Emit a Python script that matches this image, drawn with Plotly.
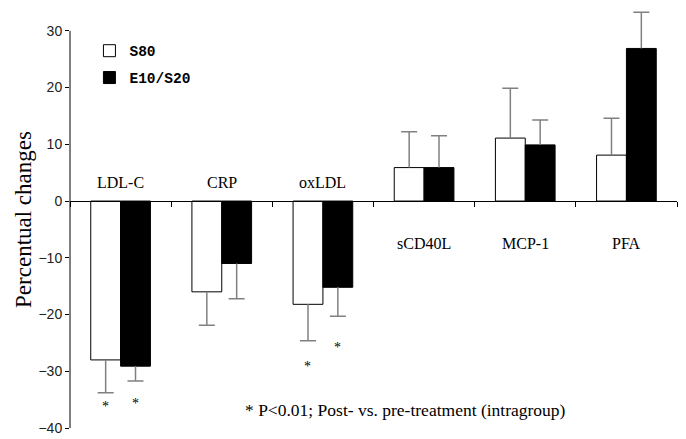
import plotly.graph_objects as go

categories = ["LDL-C", "CRP", "oxLDL", "sCD40L", "MCP-1", "PFA"]
s80 = [-28.0, -16.0, -18.2, 5.9, 11.1, 8.1]
s80_err = [5.8, 5.9, 6.4, 6.3, 8.8, 6.5]
e10s20 = [-29.1, -11.0, -15.2, 5.9, 9.9, 26.9]
e10s20_err = [2.6, 6.2, 5.1, 5.6, 4.4, 6.4]
label_y = [3.2, 3.2, 3.2, -7.4, -7.4, -7.4]
star_s80_y = [-36.2, None, -29.2, None, None, None]
star_e10_y = [-35.7, None, -25.8, None, None, None]
y_ticks = [-40, -30, -20, -10, 0, 10, 20, 30]
footnote = "* P<0.01; Post- vs. pre-treatment (intragroup)"

Y_MIN, Y_MAX, Y_TOP = -40, 30, 33.5
BARGAP = 0.41
ERR_COLOR = "#808080"
SERIF = "Liberation Serif"


def up(vals, errs):
    return [e if v >= 0 else 0 for v, e in zip(vals, errs)]


def down(vals, errs):
    return [e if v < 0 else 0 for v, e in zip(vals, errs)]


def ends(vals, errs):
    return [v + e if v >= 0 else v - e for v, e in zip(vals, errs)]


fig = go.Figure()

series = [
    ("S80", s80, s80_err, "white", "g1"),
    ("E10/S20", e10s20, e10s20_err, "black", "g2"),
]

for name, vals, errs, color, grp in series:
    fig.add_trace(go.Bar(
        x=categories, y=vals, name=name, offsetgroup=grp, legendgroup=grp,
        marker=dict(color=color, line=dict(color="black", width=1)),
        error_y=dict(type="data", symmetric=False, array=up(vals, errs),
                     arrayminus=down(vals, errs), color=ERR_COLOR,
                     thickness=1.5, width=0),
    ))

for name, vals, errs, color, grp in series:
    fig.add_trace(go.Bar(
        x=categories, y=[0] * len(vals), base=ends(vals, errs),
        offsetgroup=grp, showlegend=False, hoverinfo="skip",
        marker=dict(color="rgba(0,0,0,0)", line=dict(width=0)),
        error_y=dict(type="data", array=[0] * len(vals), color=ERR_COLOR,
                     thickness=1.5, width=8),
    ))

half = (1 - BARGAP) / 4
annotations = []
for i, cat in enumerate(categories):
    annotations.append(dict(x=cat, y=label_y[i], xref="x", yref="y", text=cat,
                            showarrow=False, font=dict(family=SERIF, size=16, color="black")))
    for stars, sign in ((star_s80_y, -1), (star_e10_y, 1)):
        if stars[i] is not None:
            annotations.append(dict(x=i + sign * half, y=stars[i], xref="x", yref="y",
                                    text="*", showarrow=False,
                                    font=dict(family=SERIF, size=14, color="black")))
annotations.append(dict(x=0.552, y=-36.8, xref="paper", yref="y", text=footnote,
                        showarrow=False, font=dict(family=SERIF, size=17.5, color="black")))

fig.update_layout(
    width=686, height=439,
    margin=dict(l=62, r=17, t=3.2, b=19, autoexpand=False),
    paper_bgcolor="white", plot_bgcolor="white",
    barmode="group", bargap=BARGAP, bargroupgap=0,
    showlegend=True,
    legend=dict(x=0.032, y=0.943, xanchor="left", yanchor="top",
                font=dict(family="Liberation Mono", size=14.5, color="black", weight="bold"),
                bgcolor="rgba(0,0,0,0)", tracegroupgap=5, itemwidth=30),
    annotations=annotations,
    shapes=[dict(type="line", xref="paper", yref="y", x0=0, x1=0, y0=Y_MIN, y1=Y_MAX,
                 line=dict(color="black", width=1))],
    xaxis=dict(type="category", range=[-0.5, 5.5], anchor="free",
               position=(0 - Y_MIN) / (Y_TOP - Y_MIN),
               showline=True, linecolor="black", linewidth=1, ticks="outside",
               tickson="boundaries", ticklen=5, tickcolor="black",
               showticklabels=False, showgrid=False, zeroline=False),
    yaxis=dict(range=[Y_MIN, Y_TOP], tickvals=y_ticks, ticks="outside", ticklen=4,
               tickcolor="black", showline=False,
               showgrid=False, zeroline=False,
               tickfont=dict(family="Liberation Sans", size=14, color="#222"),
               title=dict(text="Percentual changes", standoff=0,
                          font=dict(family=SERIF, size=23, color="black"))),
)

fig.write_html("out.html")
